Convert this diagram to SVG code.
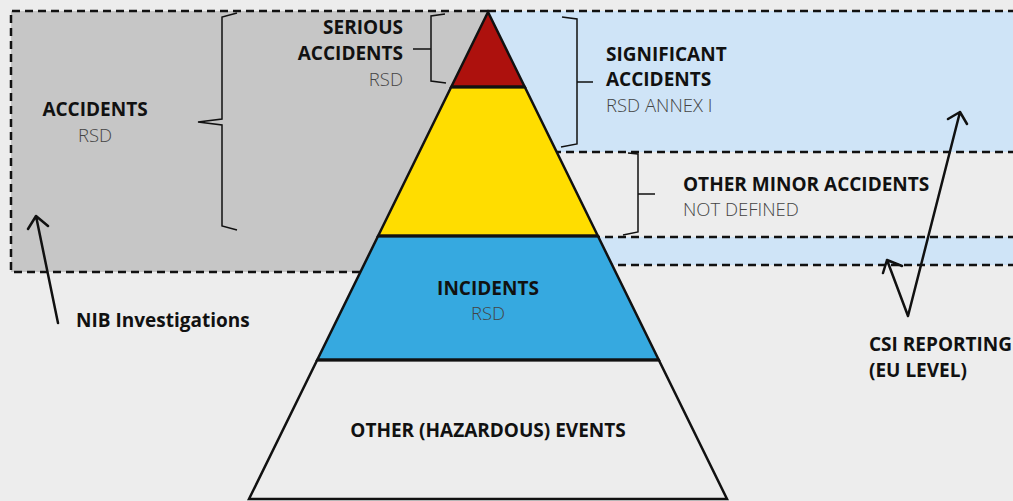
<svg xmlns="http://www.w3.org/2000/svg" width="1013" height="501" viewBox="0 0 1013 501">
<style>
.dash{fill:none;stroke:#111;stroke-width:2.5;stroke-dasharray:8 5}
.tier{stroke:#111;stroke-width:2.5;stroke-linejoin:miter}
.brace{fill:none;stroke:#111;stroke-width:1.5}
.arrow{fill:none;stroke:#111;stroke-width:2.5;stroke-linecap:round;stroke-linejoin:round}
.b{font-family:"Open Sans","Noto Sans",sans-serif;font-weight:700;font-size:19px;fill:#111}
.l{font-family:"Open Sans","Noto Sans",sans-serif;font-weight:300;font-size:18.5px;fill:#444}
</style>
<rect width="1013" height="501" fill="#ededed"/>
<g id="zones">
<rect x="11" y="11" width="477" height="261" fill="#c6c6c6"/>
<rect x="488" y="11" width="525" height="141" fill="#cfe4f7"/>
<rect x="488" y="237" width="525" height="28" fill="#cfe4f7"/>
<path class="dash" d="M488,11 H11 V272 H488"/>
<path class="dash" d="M488,11 H1013"/>
<path class="dash" d="M488,152 H1013"/>
<path class="dash" d="M488,237 H1013"/>
<path class="dash" d="M488,265 H1013"/>
</g>
<g id="pyramid">
<g id="tier-serious"><polygon class="tier" fill="#ad110d" points="488,12 524.8,87 451.2,87"/></g>
<g id="tier-accidents"><polygon class="tier" fill="#ffdd00" points="451.2,87 524.8,87 597.9,236 378.1,236"/></g>
<g id="tier-incidents"><polygon class="tier" fill="#36a9e0" points="378.1,236 597.9,236 658.8,360 317.2,360"/>
<text class="b" x="488" y="295" text-anchor="middle">INCIDENTS</text>
<text class="l" x="488" y="320" text-anchor="middle" fill="#223344">RSD</text></g>
<g id="tier-other"><polygon class="tier" fill="#ededed" points="317.2,360 658.8,360 727,499 249,499"/>
<text class="b" x="488" y="437" text-anchor="middle">OTHER (HAZARDOUS) EVENTS</text></g>
<line x1="451.2" y1="87" x2="524.8" y2="87" stroke="#111" stroke-width="3"/>
<line x1="378.1" y1="236" x2="597.9" y2="236" stroke="#111" stroke-width="3"/>
<line x1="317.2" y1="360" x2="658.8" y2="360" stroke="#111" stroke-width="3"/>
</g>
<g id="label-accidents">
<path class="brace" d="M237,13 L222,17 L222,119 L198,122 L222,125 L222,226 L237,230"/>
<text class="b" x="95" y="116" text-anchor="middle">ACCIDENTS</text>
<text class="l" x="95" y="142" text-anchor="middle">RSD</text>
</g>
<g id="label-serious">
<path class="brace" d="M445,14 L431,16 L431,81 L446,83 M413,49 H431"/>
<text class="b" x="403" y="34" text-anchor="end">SERIOUS</text>
<text class="b" x="403" y="60" text-anchor="end">ACCIDENTS</text>
<text class="l" x="403" y="86" text-anchor="end">RSD</text>
</g>
<g id="label-significant">
<path class="brace" d="M562,17 L577,19 L577,144 L561,147 M577,82 H593"/>
<text class="b" x="606" y="61">SIGNIFICANT</text>
<text class="b" x="606" y="86">ACCIDENTS</text>
<text class="l" x="606" y="112">RSD ANNEX I</text>
</g>
<g id="label-minor">
<path class="brace" d="M628,153 L638,154 L638,232 L623,235 M638,194 H655"/>
<text class="b" x="683" y="191">OTHER MINOR ACCIDENTS</text>
<text class="l" x="683" y="216">NOT DEFINED</text>
</g>
<g id="label-nib">
<text class="b" x="76" y="327">NIB Investigations</text>
</g>
<g id="label-csi">
<text class="b" x="869" y="351">CSI REPORTING</text>
<text class="b" x="869" y="377">(EU LEVEL)</text>
</g>
<g id="connectors">
<path class="arrow" d="M58,323 L36,216 M28,229 L36,216 L48,226"/>
<path class="arrow" d="M887,260 L908,316 L960,112 M883,273 L887,260 L902,266 M948,119 L960,112 L967,124"/>
</g>
</svg>
